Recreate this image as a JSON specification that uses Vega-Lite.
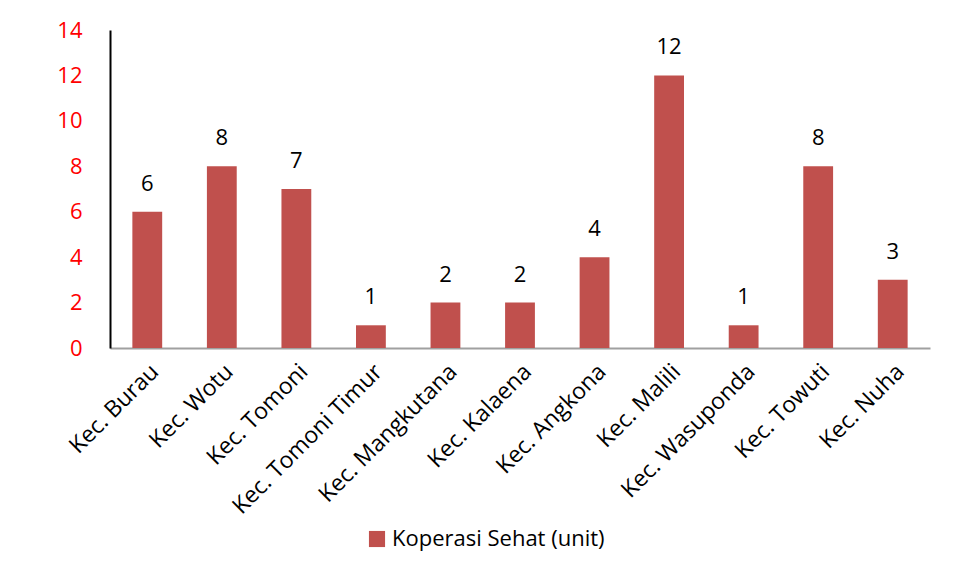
{
  "$schema": "https://vega.github.io/schema/vega-lite/v6.json",
  "width": 820,
  "height": 318,
  "autosize": "none",
  "padding": {"left": 110, "top": 30, "right": 29, "bottom": 228},
  "background": "white",
  "config": {"view": {"stroke": null}, "font": "Open Sans"},
  "data": {"values": [
    {"kec": "Kec. Burau", "v": 6, "s": "Koperasi Sehat (unit)"},
    {"kec": "Kec. Wotu", "v": 8, "s": "Koperasi Sehat (unit)"},
    {"kec": "Kec. Tomoni", "v": 7, "s": "Koperasi Sehat (unit)"},
    {"kec": "Kec. Tomoni Timur", "v": 1, "s": "Koperasi Sehat (unit)"},
    {"kec": "Kec. Mangkutana", "v": 2, "s": "Koperasi Sehat (unit)"},
    {"kec": "Kec. Kalaena", "v": 2, "s": "Koperasi Sehat (unit)"},
    {"kec": "Kec. Angkona", "v": 4, "s": "Koperasi Sehat (unit)"},
    {"kec": "Kec. Malili", "v": 12, "s": "Koperasi Sehat (unit)"},
    {"kec": "Kec. Wasuponda", "v": 1, "s": "Koperasi Sehat (unit)"},
    {"kec": "Kec. Towuti", "v": 8, "s": "Koperasi Sehat (unit)"},
    {"kec": "Kec. Nuha", "v": 3, "s": "Koperasi Sehat (unit)"}
  ]},
  "encoding": {
    "x": {"field": "kec", "type": "nominal", "sort": null,
      "scale": {"paddingInner": 0.6, "paddingOuter": 0.3},
      "axis": {"title": null, "labelAngle": -45, "labelFontSize": 23, "labelColor": "black", "labelLimit": 300,
        "labelFont": "Open Sans", "ticks": false, "domainColor": "#a0a0a0", "domainWidth": 2, "labelPadding": 12}},
    "y": {"field": "v", "type": "quantitative",
      "scale": {"domain": [0, 14]},
      "axis": {"title": null, "values": [0, 2, 4, 6, 8, 10, 12, 14], "grid": false, "ticks": false,
        "labelColor": "#ff0000", "labelFontSize": 22, "labelFont": "Open Sans", "labelPadding": 28,
        "domainColor": "black", "domainWidth": 2}}
  },
  "layer": [
    {"mark": {"type": "bar", "color": "#c0504d"},
     "encoding": {"color": {"field": "s", "type": "nominal", "scale": {"range": ["#c0504d"]},
       "legend": {"title": null, "orient": "none", "legendX": 256, "legendY": 498, "symbolType": "square",
         "symbolSize": 260, "labelFontSize": 22, "labelFont": "Open Sans", "labelColor": "black", "labelLimit": 400, "symbolStrokeWidth": 0}}}},
    {"mark": {"type": "text", "dy": -28, "fontSize": 22, "color": "black", "font": "Open Sans"},
     "encoding": {"text": {"field": "v", "type": "quantitative"}}}
  ]
}
